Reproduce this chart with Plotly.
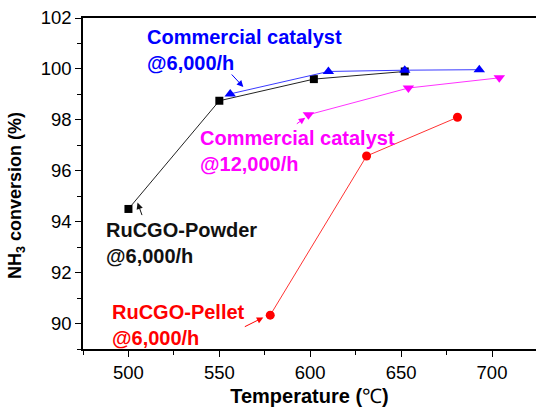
import plotly.graph_objects as go

# Temperature (°C) and NH3 conversion (%) for each catalyst / space velocity
powder_t = [500, 550, 602, 652]
powder_c = [94.5, 98.75, 99.6, 99.9]

comm6_t = [556, 610, 652, 693]
comm6_c = [99.02, 99.9, 99.95, 99.97]

comm12_t = [599, 654, 704]
comm12_c = [98.2, 99.25, 99.65]

pellet_t = [578, 631, 681]
pellet_c = [90.33, 96.58, 98.1]

FONT = "Liberation Sans, Arial, sans-serif"

fig = go.Figure()

fig.add_trace(go.Scatter(x=powder_t, y=powder_c, mode="lines+markers",
                         line=dict(color="#222222", width=1),
                         marker=dict(symbol="square", size=8, color="black")))
fig.add_trace(go.Scatter(x=comm6_t, y=comm6_c, mode="lines+markers",
                         line=dict(color="#3a3aff", width=1),
                         marker=dict(symbol="triangle-up", size=10, color="#0000ff")))
fig.add_trace(go.Scatter(x=comm12_t, y=comm12_c, mode="lines+markers",
                         line=dict(color="#ff33ff", width=1),
                         marker=dict(symbol="triangle-down", size=10, color="#ff00ff")))
fig.add_trace(go.Scatter(x=pellet_t, y=pellet_c, mode="lines+markers",
                         line=dict(color="#ff3333", width=1),
                         marker=dict(symbol="circle", size=9, color="#ff0000")))

# Series labels
labels = [
    ("Commercial catalyst<br>@6,000/h", 509.3, 100.75, "#0000ff"),
    ("Commercial catalyst<br>@12,000/h", 538.5, 96.78, "#ff00ff"),
    ("RuCGO-Powder<br>@6,000/h", 486.3, 93.16, "#111111"),
    ("RuCGO-Pellet<br>@6,000/h", 490.1, 89.94, "#ff0000"),
]
for text, x, y, col in labels:
    fig.add_annotation(x=x, y=y, xref="x", yref="y", text="<b>%s</b>" % text,
                       showarrow=False, xanchor="left", yanchor="middle",
                       align="left", font=dict(family=FONT, size=20, color=col))

# Pointer arrows from labels to curves
arrows = [
    (563.2, 99.29, -13, -14, "#0000ff"),
    (597.3, 98.08, -10, 7, "#ff00ff"),
    (505.0, 94.75, 5, 14, "#111111"),
    (574.2, 90.24, -20, 10, "#ff0000"),
]
for x, y, ax, ay, col in arrows:
    fig.add_annotation(x=x, y=y, xref="x", yref="y", ax=ax, ay=ay, text="",
                       showarrow=True, arrowhead=2, arrowsize=1.3,
                       arrowwidth=1, arrowcolor=col)

# Vertical axis title
fig.add_annotation(x=-0.148, y=0.465, xref="paper", yref="paper",
                   text="<b>NH<sub>3</sub> conversion (%)</b>", textangle=-90,
                   showarrow=False, xanchor="center", yanchor="middle",
                   font=dict(family=FONT, size=18, color="black"))

fig.update_layout(
    width=536, height=414,
    margin=dict(l=83, r=0, t=18, b=65),
    paper_bgcolor="white", plot_bgcolor="white",
    showlegend=False,
    font=dict(family=FONT, color="black"),
)

fig.update_xaxes(
    range=[475, 724.2], tickvals=[500, 550, 600, 650, 700],
    showgrid=False, zeroline=False,
    showline=True, linecolor="black", linewidth=1.5, mirror=True,
    ticks="outside", ticklen=6, tickwidth=1, tickcolor="black",
    minor=dict(dtick=25, ticks="outside", ticklen=4, tickwidth=1, tickcolor="black"),
    tickfont=dict(family=FONT, size=18.5),
    tickprefix="<b>", ticksuffix="</b>",
    title=dict(text="<b>Temperature (</b>℃<b>)</b>", font=dict(family=FONT, size=20), standoff=7),
)
fig.update_yaxes(
    range=[89, 102], tickvals=[90, 92, 94, 96, 98, 100, 102],
    showgrid=False, zeroline=False,
    showline=True, linecolor="black", linewidth=1.5,
    ticks="outside", ticklen=6, tickwidth=1, tickcolor="black",
    minor=dict(dtick=1, ticks="outside", ticklen=4, tickwidth=1, tickcolor="black"),
    tickfont=dict(family=FONT, size=18.5),
    tickprefix="<b>", ticksuffix="</b>",
)

fig.write_html("out.html")
